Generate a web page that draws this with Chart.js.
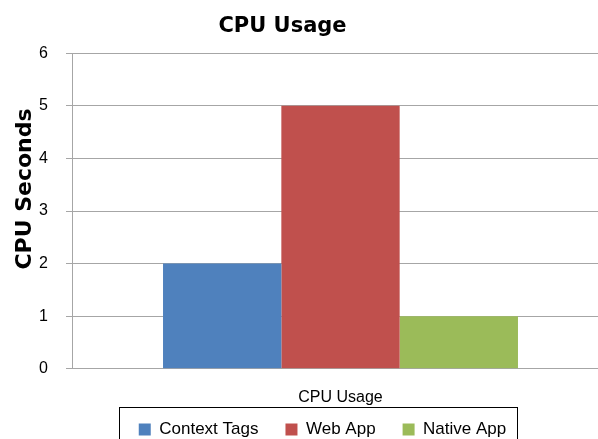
<!DOCTYPE html>
<html>
<head>
<meta charset="utf-8">
<script src="https://cdn.jsdelivr.net/npm/chart.js@4/dist/chart.umd.min.js"></script>
<style>
  html, body { margin: 0; padding: 0; background: #fff; overflow: hidden; }
  #wrap { width: 612px; height: 472px; }
</style>
</head>
<body>
<div id="wrap"><canvas id="chart" width="612" height="472"></canvas></div>
<script>
// data
var categories = ['CPU Usage'];
var seriesNames = ['Context Tags', 'Web App', 'Native App'];
var contextTags = [2];
var webApp = [5];
var nativeApp = [1];
var yTicks = [0, 1, 2, 3, 4, 5, 6];

var colors = ['#4F81BD', '#C0504D', '#9BBB59'];
var values = [contextTags, webApp, nativeApp];
var gridColor = '#a6a6a6';
var bodyFont = "'Liberation Sans', Arial, sans-serif";
var boldFont = "'DejaVu Sans', Verdana, sans-serif";

// y title drawn by hand (Excel puts it a bit above centre), plus legend frame
var extras = {
  id: 'extras',
  afterLayout: function (chart) {
    // Excel does not centre title and legend on the same line as the canvas
    var t = chart.titleBlock;
    t.left -= 22; t.right -= 22;
    var lg = chart.legend;
    lg.left += 18; lg.right += 18;
    lg.top -= 24; lg.bottom -= 24;
  },
  afterDraw: function (chart) {
    var ctx = chart.ctx;
    ctx.save();
    ctx.translate(25, 189);
    ctx.rotate(-Math.PI / 2);
    ctx.font = 'bold 22px ' + boldFont;
    ctx.fillStyle = '#000';
    ctx.textAlign = 'center';
    ctx.textBaseline = 'middle';
    ctx.fillText('CPU Seconds', 0, 0);
    ctx.restore();

    var boxes = chart.legend.legendHitBoxes;
    if (!boxes || !boxes.length) return;
    var l = boxes[0].left, r = boxes[boxes.length - 1].left + boxes[boxes.length - 1].width;
    var top = boxes[0].top;
    ctx.save();
    ctx.strokeStyle = '#000';
    ctx.lineWidth = 1;
    ctx.strokeRect(Math.round(l - 20) + 0.5, Math.round(top - 14) + 0.5, Math.round(r - l + 31), 45);
    ctx.restore();
  }
};

new Chart(document.getElementById('chart'), {
  type: 'bar',
  data: {
    labels: categories,
    datasets: seriesNames.map(function (name, i) {
      return {
        label: name,
        data: values[i],
        backgroundColor: colors[i],
        borderWidth: 0,
        barPercentage: 1,
        categoryPercentage: 0.661
      };
    })
  },
  options: {
    responsive: false,
    animation: false,
    layout: { padding: { left: 0, right: 3, top: 0, bottom: 0 } },
    plugins: {
      title: {
        display: true,
        text: 'CPU Usage',
        color: '#000',
        font: { family: boldFont, size: 21, weight: 'bold' },
        padding: { top: 14, bottom: 14 }
      },
      legend: {
        position: 'bottom',
        labels: {
          color: '#000',
          font: { family: bodyFont, size: 17 },
          boxWidth: 12,
          boxHeight: 12,
          padding: 27
        }
      },
      tooltip: { enabled: false }
    },
    scales: {
      x: {
        grid: { display: false },
        border: { color: gridColor, width: 1 },
        ticks: { color: '#000', font: { family: bodyFont, size: 16 }, padding: 11 }
      },
      y: {
        min: 0,
        max: 6,
        afterFit: function (scale) { scale.width = 72; },
        afterBuildTicks: function (scale) {
          scale.ticks = yTicks.map(function (v) { return { value: v }; });
        },
        grid: { color: gridColor, lineWidth: 1, tickLength: 6 },
        border: { color: gridColor, width: 1 },
        ticks: { color: '#000', font: { family: bodyFont, size: 16 }, padding: 18 }
      }
    }
  },
  plugins: [extras]
});
</script>
</body>
</html>
